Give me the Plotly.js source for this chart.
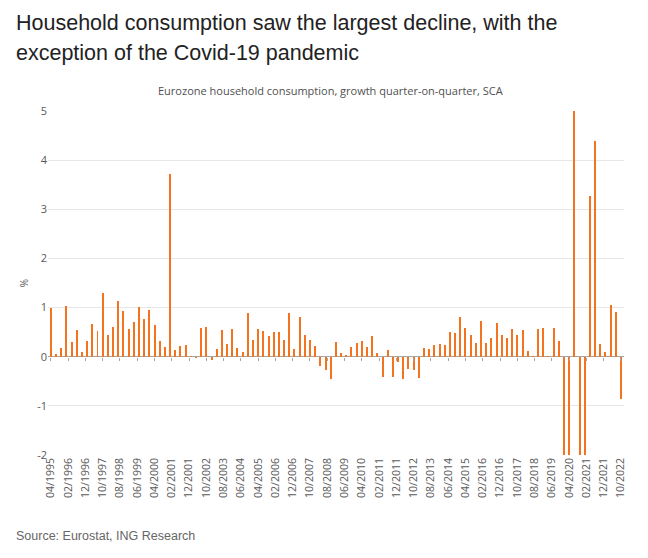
<!DOCTYPE html>
<html>
<head>
<meta charset="utf-8">
<script src="https://cdn.plot.ly/plotly-3.0.1.min.js"></script>
<style>
  html, body { margin: 0; padding: 0; background: #ffffff; }
  #chart { width: 648px; height: 558px; }
</style>
</head>
<body>
<div id="chart"></div>
<script>
// Quarterly growth, % q/q, from Q2 1995 to Q4 2022 (values read from the reference chart;
// Covid-era bars run beyond the axis range and are clipped there, as in the original)
const firstQuarter = { year: 1995, month: 4 };
const growth = [
  1.00, 0.05, 0.18,
  1.03, 0.30, 0.55, 0.10,
  0.32, 0.66, 0.52, 1.29,
  0.44, 0.60, 1.14, 0.94,
  0.56, 0.70, 1.02, 0.77,
  0.95, 0.64, 0.32, 0.19,
  3.71, 0.13, 0.21, 0.23,
  0.02, -0.03, 0.58, 0.61,
  -0.07, 0.16, 0.54, 0.25,
  0.56, 0.18, 0.10, 0.89,
  0.35, 0.56, 0.53, 0.42,
  0.50, 0.50, 0.35, 0.89,
  0.16, 0.80, 0.44, 0.34,
  0.21, -0.19, -0.28, -0.46,
  0.29, 0.08, 0.03, 0.19,
  0.28, 0.32, 0.20, 0.43,
  0.07, -0.41, 0.13, -0.41,
  -0.11, -0.46, -0.26, -0.28,
  -0.44, 0.17, 0.16, 0.23,
  0.25, 0.23, 0.51, 0.48,
  0.80, 0.58, 0.45, 0.28,
  0.73, 0.28, 0.38, 0.68,
  0.44, 0.38, 0.56, 0.44,
  0.54, 0.11, 0.01, 0.56,
  0.58, 0.01, 0.58, 0.33,
  -4.5, -12.5, 14.0, -3.0,
  -2.0, 3.27, 4.39, 0.26,
  0.10, 1.06, 0.90, -0.86
];
const tickLabels = [
  "04/1995","02/1996","12/1996","10/1997","08/1998","06/1999","04/2000","02/2001",
  "12/2001","10/2002","08/2003","06/2004","04/2005","02/2006","12/2006","10/2007",
  "08/2008","06/2009","04/2010","02/2011","12/2011","10/2012","08/2013","06/2014",
  "04/2015","02/2016","12/2016","10/2017","08/2018","06/2019","04/2020","02/2021",
  "12/2021","10/2022"
];
const yTicks = [-2, -1, 0, 1, 2, 3, 4, 5];

const titleLines = [
  "Household consumption saw the largest decline, with the",
  "exception of the Covid-19 pandemic"
];
const subtitle = "Eurozone household consumption, growth quarter-on-quarter, SCA";
const source = "Source: Eurostat, ING Research";

function pad(n) { return (n < 10 ? "0" : "") + n; }
// quarter dates (first month of each quarter)
const quarterDates = growth.map((_, i) => {
  const m0 = firstQuarter.month - 1 + 3 * i;
  const y = firstQuarter.year + Math.floor(m0 / 12);
  const m = (m0 % 12) + 1;
  return y + "-" + pad(m) + "-01";
});
// tick label positions from their MM/YYYY text
const tickDates = tickLabels.map(t => {
  const [mm, yyyy] = t.split("/");
  return yyyy + "-" + mm + "-01";
});

const orange = "#f3731f";
const monthMs = 30.4 * 24 * 3600 * 1000;

const traces = [
  {
    type: "bar",
    x: quarterDates,
    y: growth,
    marker: { color: orange, line: { width: 0 } },
    width: quarterDates.map(() => monthMs * 1.15),
    hoverinfo: "x+y",
    showlegend: false
  },
  {
    type: "scatter",
    mode: "markers",
    x: [],
    y: [],
    xaxis: "x2",
    yaxis: "y",
    showlegend: false,
    hoverinfo: "skip"
  }
];

const xRange = ["1995-02-10", "2022-11-24"];

const layout = {
  width: 648,
  height: 558,
  margin: { l: 48, r: 24, t: 111, b: 103, pad: 0 },
  paper_bgcolor: "#ffffff",
  plot_bgcolor: "#ffffff",
  bargap: 0,
  font: { family: "Open Sans, sans-serif", color: "#595959" },
  xaxis: {
    type: "date",
    range: xRange,
    tickmode: "array",
    tickvals: tickDates,
    ticktext: tickLabels,
    tickangle: -90,
    ticks: "",
    showgrid: false,
    zeroline: false,
    showline: false,
    tickfont: { family: "Open Sans, sans-serif", size: 10.5, color: "#595959" },
    automargin: false,
    fixedrange: true
  },
  xaxis2: {
    type: "date",
    overlaying: "x",
    anchor: "free",
    position: 2 / 7,
    side: "bottom",
    range: xRange,
    tickmode: "array",
    tickvals: tickDates,
    showticklabels: false,
    ticks: "outside",
    ticklen: 3,
    tickwidth: 1,
    tickcolor: "#a6a6a6",
    showgrid: false,
    zeroline: false,
    showline: false,
    automargin: false,
    fixedrange: true
  },
  yaxis: {
    range: [-2, 5],
    tickmode: "array",
    tickvals: yTicks,
    ticktext: yTicks.map(String),
    ticks: "",
    showgrid: true,
    gridcolor: "#e6e6e6",
    gridwidth: 1,
    zeroline: true,
    zerolinecolor: "#a6a6a6",
    zerolinewidth: 1,
    showline: false,
    tickfont: { family: "Open Sans, sans-serif", size: 11, color: "#595959" },
    title: { text: "%", font: { family: "Open Sans, sans-serif", size: 10, color: "#595959" }, standoff: 6 },
    automargin: false,
    fixedrange: true
  },
  annotations: [
    {
      xref: "paper", yref: "paper",
      x: -0.059, y: 1.2564, xanchor: "left", yanchor: "middle",
      text: titleLines[0], showarrow: false,
      font: { family: "Liberation Sans, Arial, sans-serif", size: 21.5, color: "#222222" }
    },
    {
      xref: "paper", yref: "paper",
      x: -0.059, y: 1.1672, xanchor: "left", yanchor: "middle",
      text: titleLines[1], showarrow: false,
      font: { family: "Liberation Sans, Arial, sans-serif", size: 21.5, color: "#222222" }
    },
    {
      xref: "paper", yref: "paper",
      x: 0.4896, y: 1.059, xanchor: "center", yanchor: "middle",
      text: subtitle, showarrow: false,
      font: { family: "Open Sans, sans-serif", size: 11, color: "#505050" }
    },
    {
      xref: "paper", yref: "paper",
      x: -0.059, y: -0.2355, xanchor: "left", yanchor: "middle",
      text: source, showarrow: false,
      font: { family: "Liberation Sans, Arial, sans-serif", size: 12.5, color: "#666666" }
    }
  ]
};

Plotly.newPlot("chart", traces, layout, { displayModeBar: false, staticPlot: true });
</script>
</body>
</html>
